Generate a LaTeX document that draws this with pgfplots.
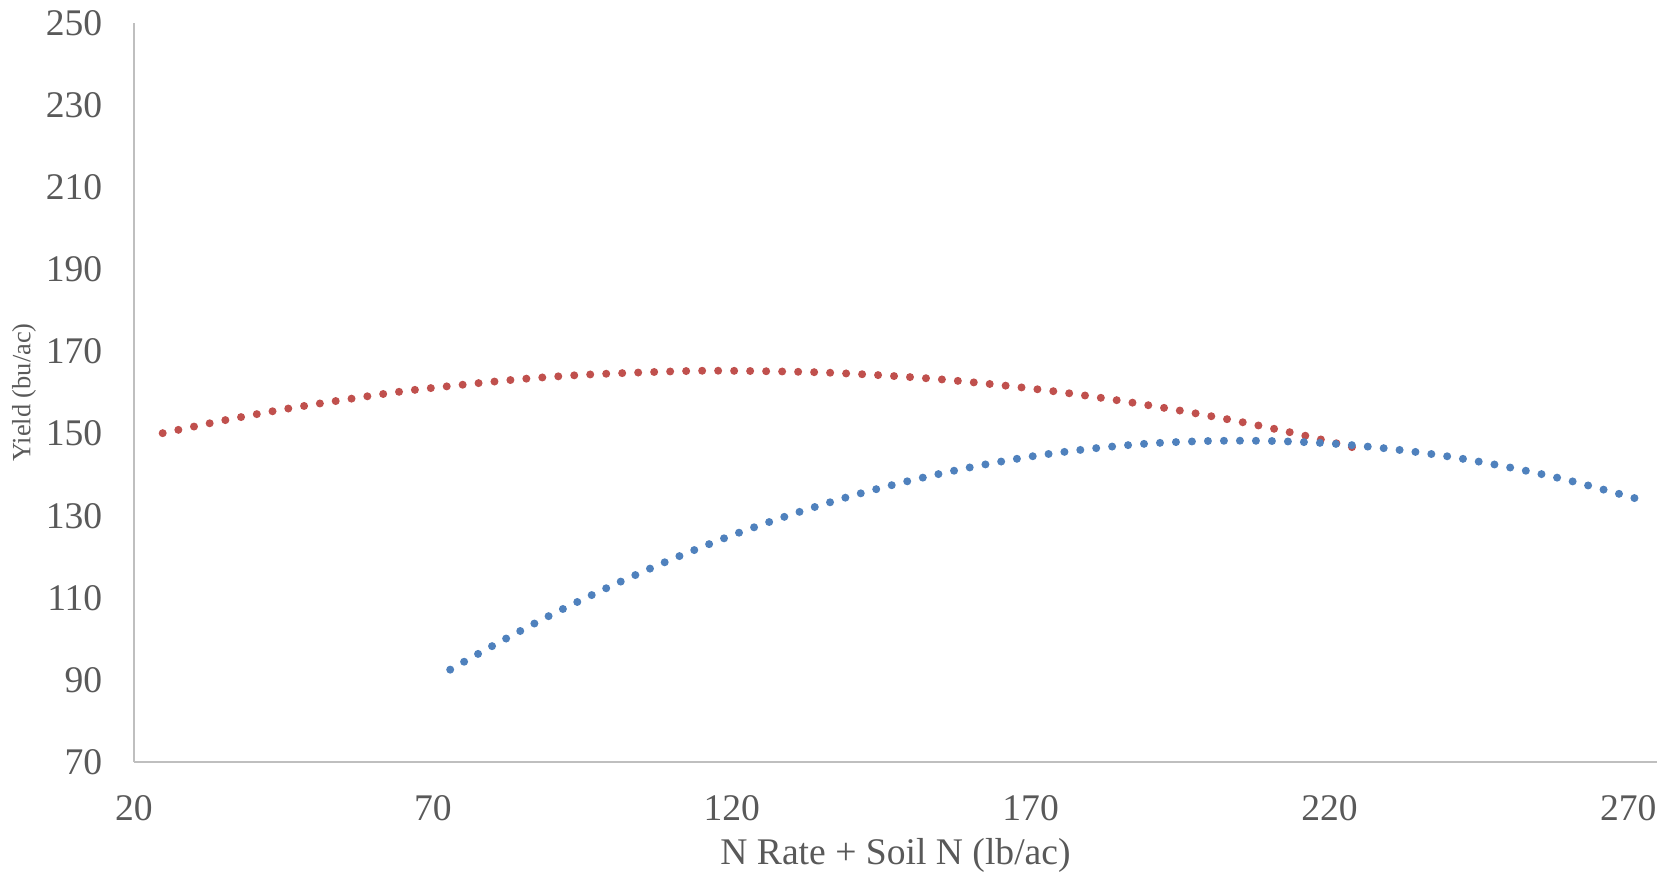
\documentclass[border=0pt]{standalone}
\usepackage{fontspec}
\setmainfont{Liberation Serif}
\usepackage{pgfplots}
\pgfplotsset{compat=1.18}
\definecolor{txtgray}{HTML}{595959}
\definecolor{axgray}{HTML}{BFBFBF}
\definecolor{xlred}{HTML}{C0504D}
\definecolor{xlblue}{HTML}{4F81BD}
\begin{document}
\begin{tikzpicture}
\path[use as bounding box] (0,-87.7mm) rectangle (167.2mm,0);
\begin{axis}[
  at={(13.4mm,-76.2mm)}, anchor=south west,
  scale only axis, width=152.3mm, height=73.9mm,
  xmin=20, xmax=274.8, ymin=70, ymax=250,
  xtick={20,70,...,270}, ytick={70,90,...,250},
  axis x line=bottom, axis y line=left,
  axis line style={-, axgray, line width=0.45pt},
  major tick length=0pt,
  /pgf/number format/assume math mode=true,
  ticklabel style={font=\fontsize{10.7}{12}\selectfont, text=txtgray},
  xticklabel style={inner sep=0pt, anchor=north, yshift=-3.25mm},
  yticklabel style={inner sep=0pt, anchor=east, xshift=-3.1mm},
  xlabel={N Rate + Soil N (lb/ac)},
  ylabel={Yield (bu/ac)},
  every axis x label/.style={at={(axis description cs:0.5,-0.127)}, anchor=center,
    font=\fontsize{10.7}{12}\selectfont, text=txtgray},
  every axis y label/.style={at={(axis description cs:-0.0722,0.5)}, rotate=90, anchor=center,
    font=\fontsize{7.5}{9}\selectfont, text=txtgray},
  clip=false,
]
\addplot[xlred, smooth, line width=0.8mm, line cap=round, dash pattern=on 0pt off 1.6mm] coordinates {
  (24.8,150.1)(35,153.2)(45,155.9)(55,158.2)(65,160.3)(75,161.9)(85,163.3)
  (95,164.3)(105,164.9)(115,165.3)(125,165.2)(135,164.9)(145,164.2)
  (155,163.2)(165,161.8)(175,160.1)(185,158.0)(195,155.6)(205,152.9)
  (215,149.8)(224.6,146.4)
};
\addplot[xlblue, smooth, line width=0.8mm, line cap=round, dash pattern=on 0pt off 1.6mm] coordinates {
  (72.9,92.5)(80,98.3)(90,106.0)(100,113.0)(110,119.4)(120,125.2)(130,130.3)
  (140,134.8)(150,138.6)(160,141.8)(170,144.4)(180,146.3)(190,147.6)
  (200,148.2)(210,148.2)(220,147.6)(230,146.3)(240,144.4)(250,141.8)
  (260,138.6)(272,133.9)
};
\end{axis}
\end{tikzpicture}
\end{document}
